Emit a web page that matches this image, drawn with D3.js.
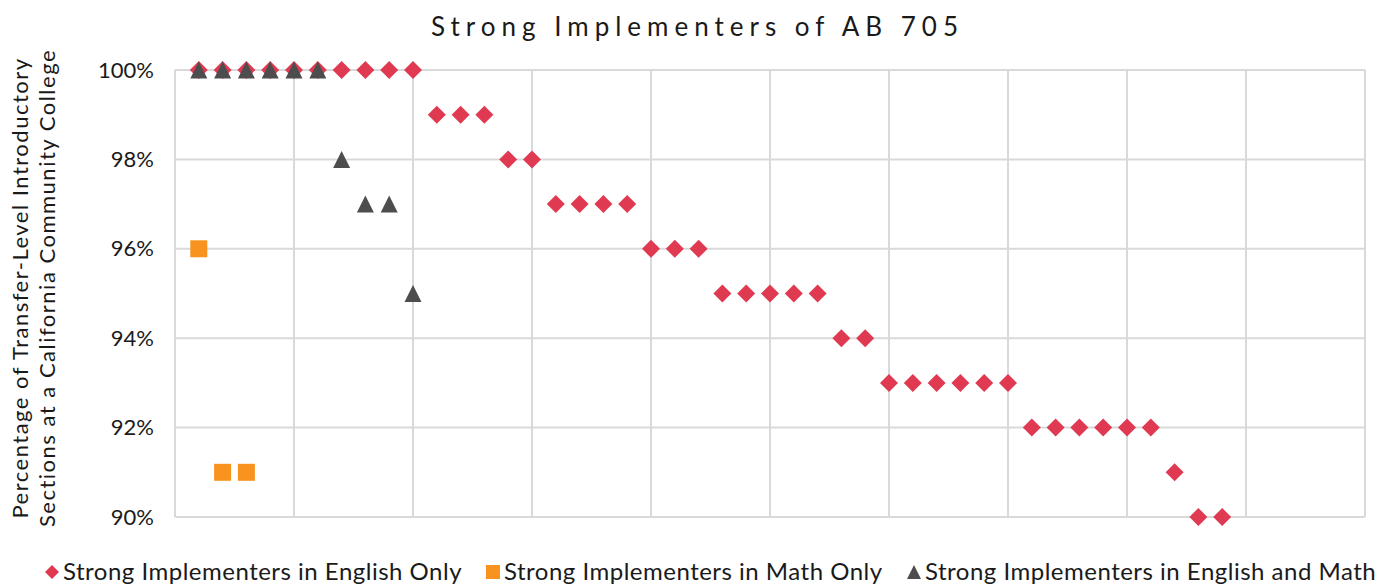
<!DOCTYPE html>
<html>
<head>
<meta charset="utf-8">
<script src="https://cdn.jsdelivr.net/npm/d3@7"></script>
<style>
  body { margin: 0; background: #fff; }
  text { font-family: Lato, "Open Sans", sans-serif; fill: #1a1a1a; }
</style>
</head>
<body>
<script>
// rank of each college along x, value in percent
var englishX = [1,2,3,4,5,6,7,8,9,10,11,12,13,14,15,16,17,18,19,20,21,22,23,24,25,26,27,28,29,30,31,32,33,34,35,36,37,38,39,40,41,42,43,44];
var englishY = [100,100,100,100,100,100,100,100,100,100,99,99,99,98,98,97,97,97,97,96,96,96,95,95,95,95,95,94,94,93,93,93,93,93,93,92,92,92,92,92,92,91,90,90];
var mathX = [1,2,3];
var mathY = [96,91,91];
var bothX = [1,2,3,4,5,6,7,8,9,10];
var bothY = [100,100,100,100,100,100,98,97,97,95];
var yTicks = [90,92,94,96,98,100];
var xGrid = [0,5,10,15,20,25,30,35,40,45,50];
var seriesNames = ["Strong Implementers in English Only", "Strong Implementers in Math Only", "Strong Implementers in English and Math"];

var width = 1395, height = 587;
var margin = {top: 70, right: 30, bottom: 70, left: 175};
var colors = {english: "#e03a52", math: "#f7931e", both: "#4d4d4d"};

var svg = d3.select("body").append("svg")
    .attr("width", width)
    .attr("height", height);

var x = d3.scaleLinear().domain([0, 50]).range([margin.left, width - margin.right]);
var y = d3.scaleLinear().domain([90, 100]).range([height - margin.bottom, margin.top]);

// grid
svg.append("g").selectAll("line.h")
    .data(yTicks).enter().append("line")
    .attr("x1", x(0)).attr("x2", x(50))
    .attr("y1", function(d) { return y(d); })
    .attr("y2", function(d) { return y(d); })
    .attr("stroke", "#d9d9d9").attr("stroke-width", 2);

svg.append("g").selectAll("line.v")
    .data(xGrid).enter().append("line")
    .attr("x1", function(d) { return x(d); })
    .attr("x2", function(d) { return x(d); })
    .attr("y1", y(100)).attr("y2", y(90))
    .attr("stroke", "#d9d9d9").attr("stroke-width", 2);

// y axis labels
var yAxis = d3.axisLeft(y).tickValues(yTicks).tickSize(0).tickPadding(21)
    .tickFormat(function(d) { return d + "%"; });
var gy = svg.append("g").attr("transform", "translate(" + x(0) + ",0)").call(yAxis);
gy.select(".domain").remove();
gy.selectAll("text").style("font-family", "Lato, sans-serif").style("font-size", "22px").attr("fill", "#1a1a1a");

// axis title
var yt = svg.append("text")
    .attr("transform", "translate(0,288) rotate(-90)")
    .attr("text-anchor", "middle")
    .style("font-size", "22px")
    .style("letter-spacing", "1.5px");
yt.append("tspan").attr("x", 0).attr("y", 28).text("Percentage of Transfer-Level Introductory");
yt.append("tspan").attr("x", 0).attr("y", 55).text("Sections  at a California Community College");

// title
svg.append("text")
    .attr("x", width / 2)
    .attr("y", 36)
    .attr("text-anchor", "middle")
    .style("font-size", "26px")
    .style("letter-spacing", "6px")
    .text("Strong Implementers of AB 705");

// marker shapes
function diamond(s) { return "M0," + (-s) + "L" + s + ",0L0," + s + "L" + (-s) + ",0Z"; }
function square(s) { return "M" + (-s) + "," + (-s) + "h" + (2 * s) + "v" + (2 * s) + "h" + (-2 * s) + "Z"; }
function triangle(s) { return "M0," + (-s) + "L" + s + "," + s + "L" + (-s) + "," + s + "Z"; }

function drawSeries(xs, ys, shape, color) {
    svg.append("g").selectAll("path")
        .data(xs).enter().append("path")
        .attr("transform", function(d, i) { return "translate(" + x(d) + "," + y(ys[i]) + ")"; })
        .attr("d", shape)
        .attr("fill", color);
}

drawSeries(englishX, englishY, diamond(9), colors.english);
drawSeries(mathX, mathY, square(8.5), colors.math);
drawSeries(bothX, bothY, triangle(8.5), colors.both);

// legend
var legendItems = [
    {name: seriesNames[0], shape: diamond(7), color: colors.english, x: 52},
    {name: seriesNames[1], shape: square(7), color: colors.math, x: 493},
    {name: seriesNames[2], shape: triangle(7), color: colors.both, x: 914}
];
var lg = svg.append("g").selectAll("g")
    .data(legendItems).enter().append("g")
    .attr("transform", function(d) { return "translate(" + d.x + ",572)"; });
lg.append("path").attr("d", function(d) { return d.shape; }).attr("fill", function(d) { return d.color; });
lg.append("text").attr("x", 11).attr("y", 8)
    .style("font-size", "24px").style("letter-spacing", "0.5px")
    .text(function(d) { return d.name; });
</script>
</body>
</html>
